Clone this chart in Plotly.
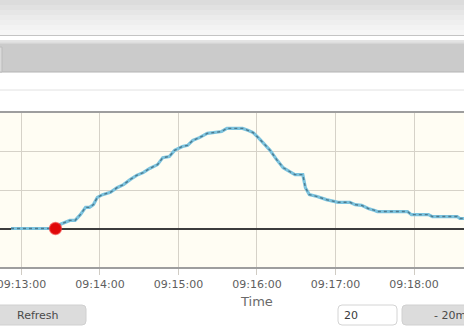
import plotly.graph_objects as go

# ---------------- data ----------------
DAY = "2024-01-01 "
times = ["09:12:52", "09:13:26", "09:13:29", "09:13:37", "09:13:41", "09:13:45",
         "09:13:49", "09:13:52", "09:13:55", "09:13:58", "09:14:02", "09:14:08",
         "09:14:13", "09:14:18", "09:14:23", "09:14:28", "09:14:33", "09:14:38",
         "09:14:44", "09:14:48", "09:14:53", "09:14:57", "09:15:03", "09:15:07",
         "09:15:11", "09:15:16", "09:15:22", "09:15:26", "09:15:33", "09:15:37",
         "09:15:49", "09:15:53", "09:15:57", "09:16:01", "09:16:05", "09:16:10",
         "09:16:15", "09:16:20", "09:16:25", "09:16:29", "09:16:35", "09:16:37",
         "09:16:40", "09:16:46", "09:16:53", "09:16:58", "09:17:02", "09:17:11",
         "09:17:15", "09:17:20", "09:17:25", "09:17:30", "09:17:32", "09:17:55",
         "09:17:58", "09:18:11", "09:18:14", "09:18:33", "09:18:35", "09:18:43"]
values = [0.0, 0.0, 1.0, 2.1, 2.1, 3.6,
          5.5, 5.5, 6.2, 8.1, 8.8, 9.4,
          10.6, 11.4, 12.7, 13.8, 14.5, 15.6,
          16.6, 18.4, 18.7, 20.3, 21.3, 21.6,
          22.9, 23.6, 24.7, 24.9, 25.2, 26.0,
          26.0, 25.5, 24.9, 23.6, 22.1, 20.3,
          17.9, 15.8, 14.8, 14.0, 14.0, 10.6,
          8.8, 8.3, 7.5, 7.0, 6.8, 6.8,
          6.2, 6.0, 5.2, 4.7, 4.4, 4.4,
          3.6, 3.6, 3.1, 3.1, 2.6, 2.6]

event_time = ["09:13:26"]
event_value = [0.0]

x_range = ["09:12:43.6", "09:18:38.2"]
y_range = [-10, 30]
tick_start = "09:13:00"

# ---------------- geometry helpers (page chrome) ----------------
W, H = 464, 328
PT, PB = 113, 267  # plot area top/bottom in px


def px(x):
    return x / W


def py(y):
    return (PB - y) / (PB - PT)


def rrect(x0, y0, x1, y1, r):
    pts = [
        f"M {px(x0 + r)},{py(y0)}", f"L {px(x1 - r)},{py(y0)}",
        f"Q {px(x1)},{py(y0)} {px(x1)},{py(y0 + r)}", f"L {px(x1)},{py(y1 - r)}",
        f"Q {px(x1)},{py(y1)} {px(x1 - r)},{py(y1)}", f"L {px(x0 + r)},{py(y1)}",
        f"Q {px(x0)},{py(y1)} {px(x0)},{py(y1 - r)}", f"L {px(x0)},{py(y0 + r)}",
        f"Q {px(x0)},{py(y0)} {px(x0 + r)},{py(y0)}", "Z",
    ]
    return " ".join(pts)


shapes = []


def rect(x0, y0, x1, y1, fill, line=None, lw=0):
    shapes.append(dict(type="rect", xref="paper", yref="paper",
                       x0=px(x0), x1=px(x1), y0=py(y1), y1=py(y0),
                       fillcolor=fill, line=dict(color=line or fill, width=lw),
                       layer="above"))


def hline(y, color, width=1, x0=-5, x1=W + 5):
    shapes.append(dict(type="line", xref="paper", yref="paper",
                       x0=px(x0), x1=px(x1), y0=py(y), y1=py(y),
                       line=dict(color=color, width=width), layer="above"))


# top gradient bar
grad = ["#dcdcdc", "#e1e1e1", "#e6e6e6", "#ebebeb", "#efefef", "#f3f3f3", "#f6f6f6"]
for i, c in enumerate(grad):
    rect(-5, i * 5, W + 5, i * 5 + 5.2, c)
hline(35.5, "#c4c4c4", 1)
hline(41, "#c8c8c8", 1)
hline(43, "#bdbdbd", 1)
rect(-5, 43.5, W + 5, 72, "#cbcbcb")
hline(72, "#b4b4b4", 1)
rect(-5, 47, 2, 72, "#dadada", "#bcbcbc", 1)
hline(90, "#e2e2e2", 1)

# bottom controls
shapes.append(dict(type="path", xref="paper", yref="paper",
                   path=rrect(-6, 305, 86, 325, 4), fillcolor="#dcdcdc",
                   line=dict(color="#d0d0d0", width=1), layer="above"))
shapes.append(dict(type="path", xref="paper", yref="paper",
                   path=rrect(338, 305, 397, 325, 4), fillcolor="#ffffff",
                   line=dict(color="#d4d4d4", width=1), layer="above"))
shapes.append(dict(type="path", xref="paper", yref="paper",
                   path=rrect(402, 305, 472, 325, 4), fillcolor="#dcdcdc",
                   line=dict(color="#d0d0d0", width=1), layer="above"))

annotations = [
    dict(text="Time", x=px(256), y=py(301), xref="paper", yref="paper",
         showarrow=False, xanchor="center", yanchor="middle",
         font=dict(family="DejaVu Sans", size=13, color="#6a6a6a")),
    dict(text="Refresh", x=px(38), y=py(315), xref="paper", yref="paper",
         showarrow=False, xanchor="center", yanchor="middle",
         font=dict(family="DejaVu Sans", size=11, color="#4a4a4a")),
    dict(text="20", x=px(342), y=py(315), xref="paper", yref="paper",
         showarrow=False, xanchor="left", yanchor="middle",
         font=dict(family="DejaVu Sans", size=11, color="#3a3a3a")),
    dict(text="- 20m", x=px(432), y=py(315), xref="paper", yref="paper",
         showarrow=False, xanchor="left", yanchor="middle",
         font=dict(family="DejaVu Sans", size=11, color="#4a4a4a")),
]

xs = [DAY + t for t in times]

fig = go.Figure()
fig.add_trace(go.Scatter(x=xs, y=values, mode="lines",
                         line=dict(color="#7cc3de", width=3.2),
                         hoverinfo="skip", showlegend=False))
fig.add_trace(go.Scatter(x=xs, y=values, mode="lines",
                         line=dict(color="#4d7a8e", width=1.4, dash="dot"),
                         hoverinfo="skip", showlegend=False))
fig.add_trace(go.Scatter(x=[DAY + t for t in event_time], y=event_value,
                         mode="markers",
                         marker=dict(color="#e00808", size=12,
                                     line=dict(color="rgba(240,60,60,0.6)", width=1.5)),
                         hoverinfo="skip", showlegend=False))

fig.update_layout(
    width=W, height=H,
    margin=dict(l=0, r=0, t=PT, b=H - PB, pad=0),
    paper_bgcolor="#ffffff",
    plot_bgcolor="#fffdf3",
    shapes=shapes,
    annotations=annotations,
    xaxis=dict(
        type="date",
        range=[DAY + x_range[0], DAY + x_range[1]],
        tick0=DAY + tick_start, dtick=60000,
        tickformat="%H:%M:%S",
        showgrid=True, gridcolor="#d6d2c8", gridwidth=1.2,
        ticks="outside", ticklen=6, tickcolor="#d0ccc4", tickwidth=1.2,
        showline=True, mirror=True, linecolor="#9e9e9e", linewidth=2,
        tickfont=dict(family="DejaVu Sans", size=11, color="#5e5e5e"),
        ticklabeloverflow="allow",
        automargin=False,
        zeroline=False,
    ),
    yaxis=dict(
        range=y_range, dtick=10, tick0=0,
        showgrid=True, gridcolor="#d6d2c8", gridwidth=1,
        showticklabels=False, ticks="",
        zeroline=True, zerolinecolor="#3c3c3c", zerolinewidth=2,
        showline=False, automargin=False,
    ),
)

fig.write_html("out.html")
